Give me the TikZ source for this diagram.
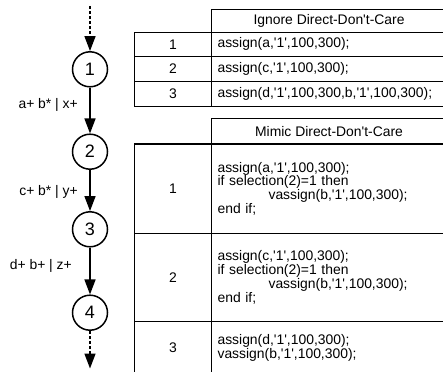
\documentclass[tikz,border=0pt]{standalone}
\usepackage{fontspec}
\setmainfont{Liberation Sans}
\usetikzlibrary{arrows.meta}
\newcommand{\sq}{\textquotesingle}
\begin{document}
\begin{tikzpicture}[x=1pt,y=-1pt,
  every node/.style={font=\fontsize{13.9}{12.6}\selectfont, inner sep=0pt},
  state/.style={circle, draw, line width=1.5pt, minimum size=35pt, font=\fontsize{18}{20}\selectfont},
  arr/.style={-{Triangle[length=15pt,width=11pt]}, line width=1.5pt},
  dasharr/.style={arr, dash pattern=on 3pt off 2pt},
  lbl/.style={anchor=east},
  cell/.style={draw, line width=1.1pt, anchor=north west},
  numcell/.style={cell, minimum width=77pt},
  txtcell/.style={cell, inner xsep=6pt, text width=223pt, align=left},
  headcell/.style={cell, minimum width=235pt}]
\useasboundingbox (0,0) rectangle (443,371);
\clip (0,0) rectangle (443,371);
% state chain
\node[state] (s1) at (90,69.3) {1};
\node[state] (s2) at (90,151.7) {2};
\node[state] (s3) at (90,229.3) {3};
\node[state] (s4) at (90,312.7) {4};
\coordinate (top) at (90,6);
\coordinate (bot) at (90,368.5);
\draw[dasharr] (top) -- (s1);
\draw[arr] (s1) -- (s2);
\draw[arr] (s2) -- (s3);
\draw[arr] (s3) -- (s4);
\draw[dasharr] (s4) -- (bot);
\node[lbl] (l1) at (78,105) {a+ b* | x+};
\node[lbl] (l2) at (78,192) {c+ b* | y+};
\node[lbl] (l3) at (72,266) {d+ b+ | z+};
% table 1
\node[headcell, minimum height=22.4pt] (h1) at (211,9.3) {Ignore Direct-Don\sq{}t-Care};
\node[numcell, minimum height=24.3pt] (a1) at (134,31.7) {1};
\node[txtcell, minimum height=24.3pt] (b1) at (211,31.7) {assign(a,\sq{}1\sq{},100,300);};
\node[numcell, minimum height=25pt] (a2) at (134,56) {2};
\node[txtcell, minimum height=25pt] (b2) at (211,56) {assign(c,\sq{}1\sq{},100,300);};
\node[numcell, minimum height=25pt] (a3) at (134,81) {3};
\node[txtcell, minimum height=25pt] (b3) at (211,81) {assign(d,\sq{}1\sq{},100,300,b,\sq{}1\sq{},100,300);};
% table 2
\node[headcell, minimum height=25.2pt] (h2) at (211,118.3) {Mimic Direct-Don\sq{}t-Care};
\node[numcell, minimum height=89.5pt] (c1) at (134,143.5) {1};
\node[txtcell, minimum height=89.5pt] (d1) at (211,143.5) {assign(a,\sq{}1\sq{},100,300);\\if selection(2)=1 then\\\hspace*{51pt}vassign(b,\sq{}1\sq{},100,300);\\end if;};
\node[numcell, minimum height=88pt] (c2) at (134,233) {2};
\node[txtcell, minimum height=88pt] (d2) at (211,233) {assign(c,\sq{}1\sq{},100,300);\\if selection(2)=1 then\\\hspace*{51pt}vassign(b,\sq{}1\sq{},100,300);\\end if;};
\node[numcell, minimum height=52pt] (c3) at (134,321) {3};
\node[txtcell, minimum height=52pt] (d3) at (211,321) {assign(d,\sq{}1\sq{},100,300);\\vassign(b,\sq{}1\sq{},100,300);};
\end{tikzpicture}
\end{document}
